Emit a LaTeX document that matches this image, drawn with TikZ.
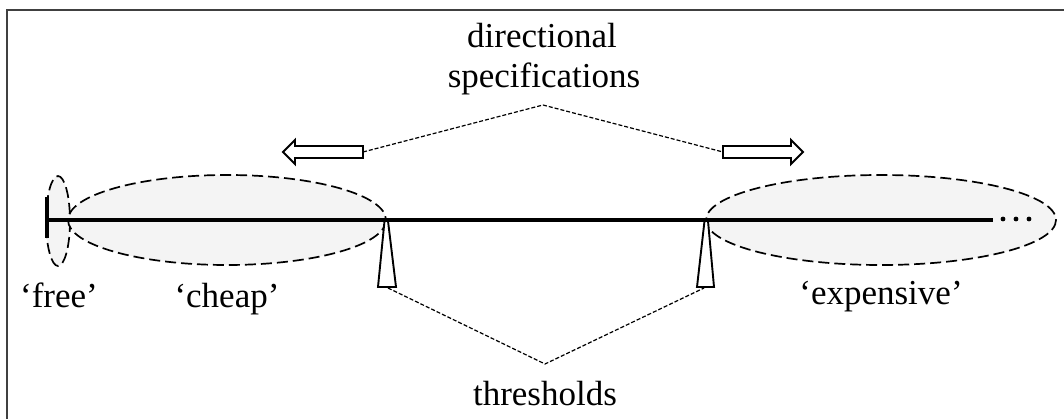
\documentclass[tikz,border=0pt]{standalone}
\usepackage{fontspec}
\setmainfont{Liberation Serif}
\begin{document}
\begin{tikzpicture}[x=1pt,y=-1pt,
  region/.style={draw=black,fill=gray!9,line width=1.7pt,dash pattern=on 11pt off 5pt},
  guide/.style={draw=black,line width=1.2pt,dash pattern=on 4pt off 2pt},
  label/.style={font=\fontsize{35}{40}\selectfont,inner sep=0pt,anchor=base},
  marker/.style={draw=black,fill=white,line width=1.9pt,line join=miter},
  bigarrow/.style={draw=black,fill=white,line width=1.9pt,line join=miter}]
\useasboundingbox (0,0) rectangle (1064,419);
\fill[white] (0,0) rectangle (1064,419);
% frame (left and top edges)
\draw[line width=2.2pt,color=black!75] (7,419) -- (7,10) -- (1064,10);
% regions
\draw[region] (58,221) ellipse [x radius=12, y radius=45];
\draw[region] (227,220) ellipse [x radius=159, y radius=45];
\draw[region] (881,220) ellipse [x radius=175, y radius=45];
% axis
\coordinate (ax0) at (48,220);
\coordinate (ax1) at (993,220);
\draw[line width=3.2pt] (ax0) -- (ax1);
\draw[line width=4pt] (47,197) -- (47,238);
\foreach \x in {1003,1016,1029} \fill (\x,219) circle [radius=2.4];
% thresholds
\draw[marker] (384.5,221) -- (388,221) -- (396,287) -- (378,287) -- cycle;
\draw[marker] (704.5,221) -- (708,221) -- (714,287) -- (697,287) -- cycle;
\coordinate (t1) at (388,288);
\coordinate (t2) at (704,288);
\coordinate (tv) at (545,364);
\draw[guide] (t1) -- (tv) -- (t2);
% direction arrows
\draw[bigarrow] (363,146) -- (295,146) -- (295,140) -- (283,152) -- (295,164) -- (295,158) -- (363,158) -- cycle;
\draw[bigarrow] (723,146) -- (791,146) -- (791,140) -- (803,152) -- (791,164) -- (791,158) -- (723,158) -- cycle;
\coordinate (a1) at (363,152);
\coordinate (a2) at (723,152);
\coordinate (dv) at (543,105);
\draw[guide] (a1) -- (dv) -- (a2);
% labels
\node[label] (dir) at (542,48) {directional};
\node[label] (spec) at (544,88) {specifications};
\node[label] (free) at (59,307) {‘free’};
\node[label] (cheap) at (227,307) {‘cheap’};
\node[label] (exp) at (881,305) {‘expensive’};
\node[label] (thr) at (545,405) {thresholds};
\end{tikzpicture}
\end{document}
